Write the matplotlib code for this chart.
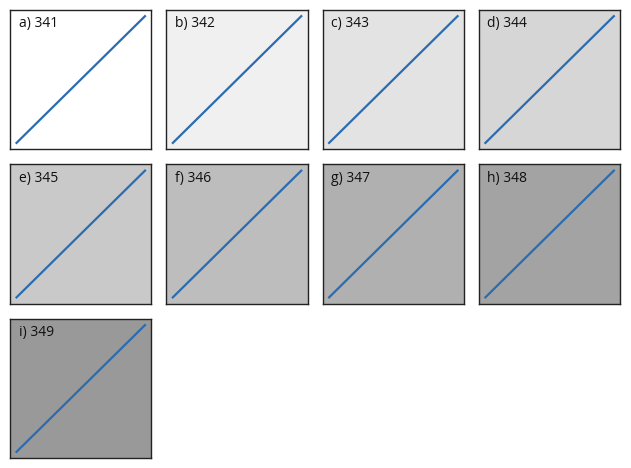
import matplotlib
matplotlib.use("Agg")
import matplotlib.pyplot as plt

labels = ["a) 341", "b) 342", "c) 343", "d) 344", "e) 345", "f) 346", "g) 347", "h) 348", "i) 349"]
grays = ["1.0", "0.94", "0.89", "0.84", "0.79", "0.74", "0.69", "0.64", "0.6"]
xs = [0, 1]
ys = [0, 1]

plt.rcParams['font.family'] = ['Open Sans', 'DejaVu Sans']

fig = plt.figure(figsize=(6.31, 4.68), dpi=100)
fig.subplots_adjust(left=0.016, right=0.983, bottom=0.021, top=0.979, wspace=0.106, hspace=0.108)

for k in range(9):
    ax = fig.add_subplot(3, 4, k + 1)
    ax.set_facecolor(grays[k])
    ax.plot(xs, ys, color='#2b6cb0', lw=1.6)
    ax.set_xticks([])
    ax.set_yticks([])
    for s in ax.spines.values():
        s.set_color('#222222')
        s.set_linewidth(1.0)
    # panel label in the top-left corner
    ax.text(0.06, 0.955, labels[k], transform=ax.transAxes, ha='left', va='top',
            fontsize=10, color='#111111')

fig.savefig("out.png", dpi=100)
